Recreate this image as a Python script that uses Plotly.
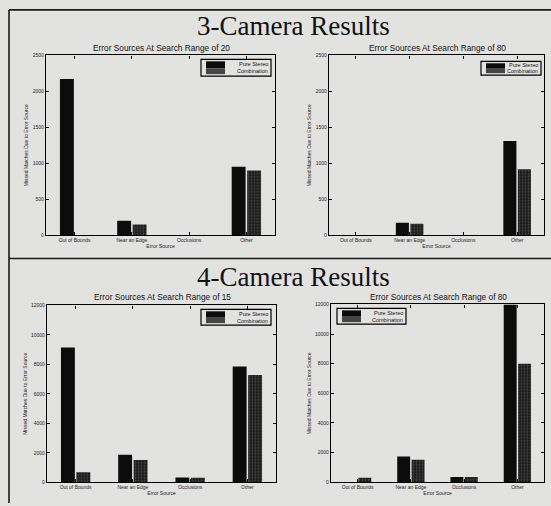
import plotly.graph_objects as go

# ---- data -------------------------------------------------------------
categories = ["Out of Bounds", "Near an Edge", "Occlusions", "Other"]
series_names = ["Pure Stereo", "Combination"]

cam3_r20_pure = [2170, 200, 0, 950]
cam3_r20_comb = [0, 150, 0, 900]
cam3_r80_pure = [0, 173, 0, 1310]
cam3_r80_comb = [0, 160, 0, 917]

cam4_r15_pure = [9150, 1870, 330, 7860]
cam4_r15_comb = [670, 1510, 310, 7280]
cam4_r80_pure = [0, 1730, 355, 12000]
cam4_r80_comb = [310, 1510, 355, 8000]

subplot_titles = [
    "Error Sources At Search Range of 20",
    "Error Sources At Search Range of 80",
    "Error Sources At Search Range of 15",
    "Error Sources At Search Range of 80",
]
section_titles = ["3-Camera Results", "4-Camera Results"]
y_ticks_3cam = [0, 500, 1000, 1500, 2000, 2500]
y_ticks_4cam = [0, 2000, 4000, 6000, 8000, 10000, 12000]
y_title = "Missed Matches Due to Error Source"
x_title = "Error Source"

# ---- page geometry (pixels) ------------------------------------------
W, H = 551, 506
PAPER = "#e2e2e1"
INK = "#111111"


def px_x(v):
    return v / W


def px_y(v):
    return 1 - v / H


# axes boxes: (left, top, right, bottom) in pixels
boxes = [
    (46, 53, 275, 235),
    (329, 53, 544, 235),
    (47, 306, 276, 485),
    (331, 305, 544, 485),
]
# legend boxes: (left, top, right, bottom) in pixels
legend_boxes = [
    (201, 57, 271, 74),
    (481, 59, 541, 73),
    (201, 310, 271, 326),
    (337, 309, 406, 325),
]
title_y = [46, 46, 298, 298]

panels = [
    (cam3_r20_pure, cam3_r20_comb, y_ticks_3cam),
    (cam3_r80_pure, cam3_r80_comb, y_ticks_3cam),
    (cam4_r15_pure, cam4_r15_comb, y_ticks_4cam),
    (cam4_r80_pure, cam4_r80_comb, y_ticks_4cam),
]

fig = go.Figure()
shapes = []
annotations = []

for i, ((pure, comb, yt), box, lbox, ty, stitle) in enumerate(
        zip(panels, boxes, legend_boxes, title_y, subplot_titles)):
    n = "" if i == 0 else str(i + 1)
    xa, ya = "x" + n, "y" + n

    fig.add_trace(go.Bar(
        x=categories, y=pure, name=series_names[0], xaxis=xa, yaxis=ya,
        marker=dict(color="#0c0c0c", line=dict(width=0)),
        showlegend=False,
    ))
    fig.add_trace(go.Bar(
        x=categories, y=comb, name=series_names[1], xaxis=xa, yaxis=ya,
        marker=dict(
            color="#1a1a1a",
            line=dict(width=0),
            pattern=dict(shape=".", fgcolor="#777777", bgcolor="#1a1a1a",
                         size=3, solidity=0.3),
        ),
        showlegend=False,
    ))

    l, t, r, b = box
    axis_common = dict(
        showline=True, linecolor="#000", linewidth=1.3, mirror="ticks",
        ticks="inside", ticklen=3, tickcolor="#000", tickwidth=1,
        showgrid=False, zeroline=False,
        tickfont=dict(family="Liberation Sans", size=5, color="#222"),
    )
    fig.update_layout({
        ("xaxis" + n): dict(
            domain=[px_x(l), px_x(r)], anchor=ya,
            title=dict(text=x_title, standoff=1,
                       font=dict(family="Liberation Sans", size=5, color="#222")),
            **axis_common,
        ),
        ("yaxis" + n): dict(
            domain=[px_y(b), px_y(t)], anchor=xa,
            range=[0, yt[-1]], tickvals=yt, ticktext=[str(v) for v in yt],
            title=dict(text=y_title, standoff=3,
                       font=dict(family="Liberation Sans", size=5, color="#222")),
            **axis_common,
        ),
    })

    # panel title
    annotations.append(dict(
        text=stitle, xref="paper", yref="paper",
        x=px_x((l + r) / 2 + 1), y=px_y(ty), xanchor="center", yanchor="middle",
        showarrow=False,
        font=dict(family="Liberation Sans", size=8.3, color=INK),
    ))

    # legend frame with stacked swatches and labels
    ll, lt, lr, lb = lbox
    shapes.append(dict(type="rect", xref="paper", yref="paper",
                       x0=px_x(ll), x1=px_x(lr), y0=px_y(lb), y1=px_y(lt),
                       line=dict(color="#000", width=1.2), fillcolor=PAPER))
    mid = (lt + lb) / 2 + 0.5
    shapes.append(dict(type="rect", xref="paper", yref="paper",
                       x0=px_x(ll + 5), x1=px_x(ll + 24),
                       y0=px_y(mid), y1=px_y(lt + 2),
                       line=dict(width=0), fillcolor="#0c0c0c"))
    shapes.append(dict(type="rect", xref="paper", yref="paper",
                       x0=px_x(ll + 5), x1=px_x(ll + 24),
                       y0=px_y(lb - 2), y1=px_y(mid),
                       line=dict(width=0), fillcolor="#454545"))
    for k, name in enumerate(series_names):
        yy = lt + (lb - lt) * (0.3 + 0.42 * k)
        annotations.append(dict(
            text=name, xref="paper", yref="paper",
            x=px_x(lr - 1.5), y=px_y(yy), xanchor="right", yanchor="middle",
            showarrow=False,
            font=dict(family="Liberation Sans", size=5.5, color=INK),
        ))

# section headings
for text, cy in zip(section_titles, [23, 277]):
    annotations.append(dict(
        text=text, xref="paper", yref="paper",
        x=px_x(293), y=px_y(cy), xanchor="center", yanchor="middle",
        showarrow=False,
        font=dict(family="Liberation Serif", size=27, color=INK),
    ))

# page frame and divider between the two sections
frame = dict(color="#1a1a1a", width=1.6)
shapes += [
    dict(type="line", xref="paper", yref="paper",
         x0=px_x(9), x1=1, y0=px_y(7), y1=px_y(7), line=frame),
    dict(type="line", xref="paper", yref="paper",
         x0=px_x(9), x1=px_x(9), y0=px_y(7), y1=0, line=frame),
    dict(type="line", xref="paper", yref="paper",
         x0=px_x(9), x1=1, y0=px_y(258.5), y1=px_y(258.5), line=frame),
]

fig.update_layout(
    width=W, height=H,
    margin=dict(l=0, r=0, t=0, b=0),
    paper_bgcolor=PAPER, plot_bgcolor=PAPER,
    barmode="group", bargap=0.46, bargroupgap=0.1,
    showlegend=False,
    shapes=shapes, annotations=annotations,
    font=dict(family="Liberation Sans", color=INK),
)

fig.write_html("out.html")
